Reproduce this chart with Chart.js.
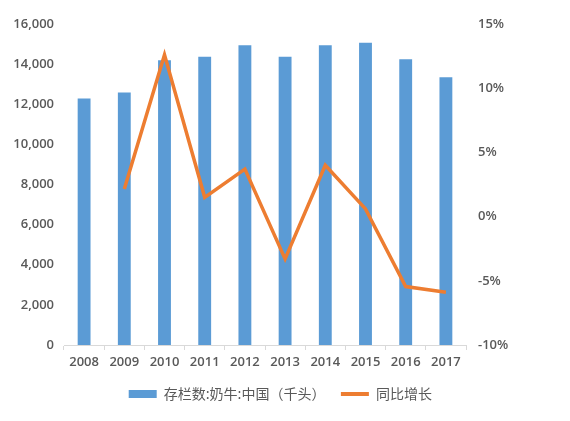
<!DOCTYPE html>
<html>
<head>
<meta charset="utf-8">
<script src="https://cdn.jsdelivr.net/npm/chart.js@4.4.1/dist/chart.umd.min.js"></script>
<style>
  html, body { margin: 0; padding: 0; background: #fff; }
  #wrap { width: 570px; height: 421px; }
</style>
</head>
<body>
<div id="wrap"><canvas id="c" width="570" height="421"></canvas></div>
<script>
// 数据
const years = ["2008", "2009", "2010", "2011", "2012", "2013", "2014", "2015", "2016", "2017"];
const cattle = [12290, 12590, 14190, 14370, 14940, 14370, 14940, 15070, 14240, 13340];
const yoy = [null, 2.15, 12.6, 1.5, 3.7, -3.3, 4.0, 0.6, -5.45, -5.9];
const barLabel = "存栏数:奶牛:中国（千头）";
const lineLabel = "同比增长";

const tickFont = { size: 13, weight: "600", family: "'Open Sans', sans-serif" };
Chart.defaults.color = "#595959";

new Chart(document.getElementById("c"), {
  data: {
    labels: years,
    datasets: [
      { type: "line", label: lineLabel, data: yoy, yAxisID: "y1", borderColor: "#ED7D31", backgroundColor: "#ED7D31",
        borderWidth: 3.5, pointRadius: 0, tension: 0, order: 0 },
      { type: "bar", label: barLabel, data: cattle, yAxisID: "y", backgroundColor: "#5B9BD5",
        categoryPercentage: 1, barPercentage: 0.32, order: 1 }
    ]
  },
  options: {
    responsive: false,
    animation: false,
    layout: { padding: { top: 24, bottom: 10, left: 0, right: 0 } },
    plugins: {
      tooltip: { enabled: false },
      legend: {
        position: "bottom",
        reverse: true,
        labels: {
          usePointStyle: true,
          pointStyleWidth: 28,
          boxHeight: 8,
          padding: 6,
          color: "#595959",
          font: { size: 14, family: "'Noto Sans CJK SC', sans-serif" },
          generateLabels(chart) {
            const items = Chart.defaults.plugins.legend.labels.generateLabels(chart);
            items.forEach(it => {
              const ds = chart.data.datasets[it.datasetIndex];
              if (ds.type === "bar") { it.pointStyle = "rect"; it.lineWidth = 0; it.fillStyle = "#5B9BD5"; }
              else { it.pointStyle = "line"; it.lineWidth = 4; it.strokeStyle = "#ED7D31"; }
              it.text = it.text + "   ";
            });
            return items;
          }
        }
      }
    },
    scales: {
      x: {
        offset: true,
        afterFit(s) { s.height = 36; },
        grid: { display: true, drawOnChartArea: false, drawTicks: true, tickLength: 5, color: "#D9D9D9", offset: true },
        border: { display: true, color: "#D9D9D9" },
        ticks: { font: tickFont, padding: 4, maxRotation: 0 }
      },
      y: {
        position: "left",
        min: 0, max: 16000,
        afterFit(s) { s.width = 64; },
        grid: { display: false, drawTicks: false },
        border: { display: false },
        ticks: { stepSize: 2000, font: tickFont, padding: 10,
          callback: v => v.toLocaleString("en-US") }
      },
      y1: {
        position: "right",
        min: -10, max: 15,
        afterFit(s) { s.width = 104; },
        grid: { display: false, drawTicks: false },
        border: { display: false },
        ticks: { stepSize: 5, font: tickFont, padding: 12,
          callback: v => v + "%" }
      }
    }
  }
});
</script>
</body>
</html>
